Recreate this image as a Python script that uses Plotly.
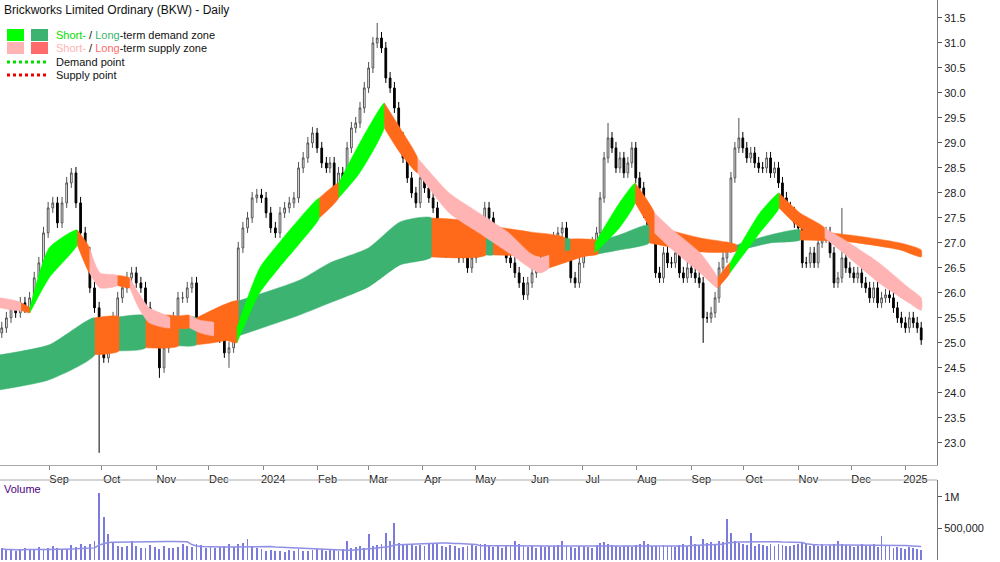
import numpy as np
import pandas as pd
import plotly.graph_objects as go

FONT = "Liberation Sans"

# ---------------- price data (closes) ----------------
closes_a = [25.3, 25.5, 25.7, 25.6, 25.8, 25.7, 25.9, 26.3, 26.6, 27.2,
            27.7, 27.8, 27.4, 27.8, 28.2, 28.4, 27.8, 27.2, 26.8, 26.1,
            25.7, 25.06, 24.7, 25.3, 25.5, 25.9, 26.1, 26.3, 26.4, 26.2,
            26.1, 25.7, 25.3, 25.0, 24.5, 24.9, 25.3, 25.5, 25.9, 25.9,
            26.1, 26.2, 25.3, 25.2, 25.2, 25.4, 25.3, 25.1, 24.8, 24.9,
            25.5, 26.9, 27.3, 27.5, 27.9, 27.96, 27.9, 27.6, 27.3, 27.2,
            27.6, 27.7, 27.8, 27.9, 28.5, 28.7, 29.0, 29.2, 28.9, 28.6, 28.5]
dates_a = ("2023-08-05", "2024-02-06")

closes_b = [28.6, 28.1, 28.4, 28.3, 28.9, 29.3, 29.4, 29.7, 30.1, 30.5,
            31.0, 31.1, 30.9, 30.3, 30.1, 29.7, 29.1, 28.7, 28.3, 28.0,
            27.8, 28.3, 28.1, 27.9, 27.7, 27.0, 26.9, 26.8, 27.1, 26.8,
            26.7, 27.0, 26.5, 26.7, 26.9, 27.4, 27.7, 27.5, 27.2, 27.1,
            26.9, 26.7, 26.6, 26.4, 26.2, 25.96, 26.2, 26.4, 26.6, 26.7,
            26.8, 27.0, 27.1, 27.2, 27.3, 26.9, 26.3, 26.2, 26.6, 26.9,
            26.9, 27.0, 27.2]
dates_b = ("2024-02-08", "2024-07-09")

closes_c = [27.9, 28.7, 29.1, 28.9, 28.5, 28.7, 28.4,
            28.6, 28.9, 28.3, 28.1, 27.6, 27.3, 27.1, 26.4, 26.3, 26.8,
            26.6, 26.6, 26.8, 26.4, 26.3, 26.5, 26.4, 26.3, 26.2, 25.5,
            25.5, 25.6, 25.9, 26.5, 26.7, 26.9, 28.3, 28.9, 29.1, 28.9,
            28.7, 28.8, 28.6, 28.5, 28.5, 28.7, 28.4, 28.5, 28.2, 27.9,
            27.7, 27.6, 27.4, 27.3, 26.6, 26.6, 26.8, 26.6, 27.0, 27.1,
            27.2, 26.8, 26.2, 26.3, 26.7, 26.5, 26.4, 26.3, 26.4, 26.2,
            26.1, 25.9, 26.1, 25.8, 25.9, 25.96, 25.9, 25.7, 25.5, 25.4,
            25.3, 25.5, 25.4, 25.3, 25.06]
dates_c = ("2024-07-11", "2025-01-10")

first_open = 25.2
# notable wick extremes (candle index, high, low)
wick_idx = [15, 21, 34, 49, 68, 82, 136, 160, 169, 195]
wick_high = [28.5, None, None, None, 29.3, 31.4, 29.4, None, 29.5, 27.7]
wick_low = [None, 22.8, 24.3, 24.5, None, None, None, 25.0, None, None]

# volume (thousands)
volume_a = [180, 150, 170, 140, 160, 190, 150, 170, 200, 160,
            180, 210, 190, 170, 160, 230, 200, 250, 220, 240,
            300, 1050, 680, 400, 260, 220, 200, 210, 300, 210,
            190, 180, 230, 200, 170, 210, 180, 190, 200, 250,
            220, 200, 240, 230, 190, 210, 180, 200, 220, 250,
            200, 240, 260, 320, 210, 180, 160, 140, 150, 130,
            140, 120, 150, 130, 160, 140, 130, 150, 170, 160, 140]
volume_b = [150, 160, 140, 170, 300, 180, 200, 220, 190, 400,
            210, 230, 250, 420, 300, 580, 260, 240, 230, 250,
            220, 230, 210, 240, 260, 250, 220, 200, 230, 210,
            190, 200, 210, 230, 220, 250, 240, 210, 200, 220,
            190, 210, 230, 300, 240, 220, 200, 210, 190, 220,
            200, 210, 220, 230, 300, 210, 200, 190, 220, 210,
            200, 190, 230, 260, 280, 240, 230, 210, 200, 220,
            210, 200, 230, 250, 300, 240, 220, 210, 200, 230,
            220, 210, 200, 230, 240, 220, 380, 250, 220, 330,
            260, 280, 240, 300, 280, 650, 420, 300, 260, 240,
            230, 420, 220, 240, 230, 210, 250, 220, 240, 230,
            210, 220, 230, 250, 280, 240, 220, 230, 210, 240,
            220, 230, 240, 300, 250, 230, 210, 200, 220, 240,
            210, 230, 250, 200, 380, 220, 210, 190, 200, 180,
            170, 200, 190, 160, 150]

# ---------------- zone bands ----------------
long_dates = ["2023-08-04", "2023-09-01", "2023-09-27", "2023-10-11", "2023-10-26",
              "2023-11-14", "2023-11-24", "2023-12-18", "2024-01-22", "2024-02-08",
              "2024-03-01", "2024-03-19", "2024-04-06", "2024-05-07", "2024-05-11",
              "2024-06-01", "2024-06-21", "2024-06-24", "2024-07-10", "2024-07-22",
              "2024-08-08", "2024-09-06", "2024-09-27", "2024-10-16", "2024-11-02",
              "2024-11-30", "2024-12-29", "2025-01-10"]
long_upper = [24.76, 24.96, 25.5, 25.52, 25.54, 25.52, 25.5, 25.84, 26.26, 26.6,
              26.9, 27.42, 27.5, 27.35, 27.33, 27.22, 27.1, 27.08, 27.04, 27.16,
              27.36, 27.1, 26.96, 27.16, 27.26, 27.16, 27.0, 26.86]
long_lower = [24.06, 24.26, 24.76, 24.84, 24.9, 24.94, 24.96, 25.14, 25.56, 25.8,
              26.12, 26.56, 26.72, 26.76, 26.76, 26.74, 26.74, 26.74, 26.78, 26.86,
              27.0, 26.82, 26.84, 27.0, 27.06, 27.02, 26.86, 26.72]
long_zone = ["D", "D", "S", "D", "S", "D", "S", "D", "D", "D",
             "D", "D", "S", "D", "S", "S", "D", "S", "D", "D",
             "S", "S", "D", "D", "S", "S", "S", "S"]

short_dates = ["2023-08-04", "2023-08-16", "2023-08-21", "2023-09-01", "2023-09-17",
               "2023-09-24", "2023-09-30", "2023-10-10", "2023-10-17", "2023-10-22",
               "2023-10-28", "2023-11-09", "2023-11-20", "2023-11-26", "2023-12-04",
               "2023-12-17", "2023-12-30", "2024-01-10", "2024-01-22", "2024-02-02",
               "2024-02-13", "2024-02-25", "2024-03-10", "2024-03-19", "2024-03-29",
               "2024-04-16", "2024-05-03", "2024-05-20", "2024-06-01", "2024-06-07",
               "2024-06-12", "2024-06-29", "2024-07-08", "2024-07-22", "2024-07-31",
               "2024-08-11", "2024-08-20", "2024-09-06", "2024-09-16", "2024-09-23",
               "2024-10-10", "2024-10-21", "2024-11-02", "2024-11-16", "2024-11-30",
               "2024-12-17", "2025-01-03", "2025-01-10"]
short_upper = [25.9, 25.8, 25.7, 26.9, 27.26, 26.9, 26.4, 26.35, 26.3, 26.0,
               25.7, 25.5, 25.55, 25.45, 25.4, 25.3, 26.5, 27.0, 27.5, 27.9,
               28.2, 29.0, 29.8, 29.3, 28.7, 28.0, 27.6, 27.2, 26.8, 26.7,
               26.75, 26.9, 27.0, 27.8, 28.2, 27.6, 27.3, 26.8, 26.3, 26.6,
               27.6, 28.0, 27.6, 27.3, 27.0, 26.6, 26.1, 25.9]
short_lower = [25.7, 25.65, 25.6, 26.3, 26.96, 26.4, 26.1, 26.15, 26.1, 25.7,
               25.4, 25.3, 25.3, 25.2, 25.15, 25.0, 26.0, 26.5, 27.0, 27.5,
               27.9, 28.4, 29.3, 28.8, 28.4, 27.6, 27.2, 26.8, 26.5, 26.4,
               26.5, 26.7, 26.8, 27.3, 27.8, 27.2, 26.9, 26.4, 26.1, 26.4,
               27.2, 27.7, 27.3, 27.1, 26.7, 26.2, 25.8, 25.65]
short_zone = ["P", "O", "S", "S", "O", "P", "P", "O", "P", "P",
              "P", "O", "P", "P", "O", "S", "S", "S", "S", "O",
              "S", "S", "O", "O", "P", "P", "P", "P", "P", "P",
              "O", "O", "S", "S", "O", "P", "P", "P", "O", "S",
              "S", "O", "O", "P", "P", "P", "P", "P"]

month_ticks = ["2023-09-01", "2023-10-01", "2023-11-01", "2023-12-01", "2024-01-01",
               "2024-02-01", "2024-03-01", "2024-04-01", "2024-05-01", "2024-06-01",
               "2024-07-01", "2024-08-01", "2024-09-01", "2024-10-01", "2024-11-01",
               "2024-12-01", "2025-01-01"]
month_labels = ["Sep", "Oct", "Nov", "Dec", "2024", "Feb", "Mar", "Apr", "May", "Jun",
                "Jul", "Aug", "Sep", "Oct", "Nov", "Dec", "2025"]
price_ticks = [23.0, 23.5, 24.0, 24.5, 25.0, 25.5, 26.0, 26.5, 27.0, 27.5,
               28.0, 28.5, 29.0, 29.5, 30.0, 30.5, 31.0, 31.5]

LONG_COLORS = {"D": "#3cb371", "S": "#ff6a1a"}
SHORT_COLORS = {"S": "#00ff00", "P": "#ffb3b3", "O": "#ff6a1a"}

# ---------------- assemble ----------------
d_a = pd.date_range(dates_a[0], dates_a[1], periods=len(closes_a))
d_b = pd.date_range(dates_b[0], dates_b[1], periods=len(closes_b))
d_c = pd.date_range(dates_c[0], dates_c[1], periods=len(closes_c))
dates = list(d_a) + list(d_b) + list(d_c)
closes = closes_a + closes_b + closes_c
volume = np.array(volume_a + volume_b) * 1000
opens = [first_open] + closes[:-1]
highs = [max(o, c) + 0.12 for o, c in zip(opens, closes)]
lows = [min(o, c) - 0.1 for o, c in zip(opens, closes)]
for i, h, l in zip(wick_idx, wick_high, wick_low):
    if h is not None:
        highs[i] = h
    if l is not None:
        lows[i] = l

fig = go.Figure()


def add_band(bdates, up, lo, zones, mapping):
    n = len(bdates)
    i = 0
    while i < n - 1:
        j = i
        while j + 1 < n - 1 and zones[j + 1] == zones[i]:
            j += 1
        end = j + 1
        xs = list(bdates[i:end + 1]) + list(bdates[i:end + 1])[::-1]
        ys = list(up[i:end + 1]) + list(lo[i:end + 1])[::-1]
        fig.add_trace(go.Scatter(x=xs, y=ys, fill="toself", mode="lines",
                                 line=dict(width=0.5, color=mapping[zones[i]], shape="spline", smoothing=0.6),
                                 fillcolor=mapping[zones[i]],
                                 hoverinfo="skip", showlegend=False,
                                 xaxis="x", yaxis="y"))
        i = end


add_band(long_dates, long_upper, long_lower, long_zone, LONG_COLORS)
add_band(short_dates, short_upper, short_lower, short_zone, SHORT_COLORS)

fig.add_trace(go.Candlestick(
    x=dates, open=opens, high=highs, low=lows, close=closes,
    increasing=dict(line=dict(color="#505050", width=1), fillcolor="white"),
    decreasing=dict(line=dict(color="#000000", width=1), fillcolor="black"),
    whiskerwidth=0, showlegend=False, xaxis="x", yaxis="y"))

vol_avg = pd.Series(volume).rolling(20, min_periods=1).mean()
fig.add_trace(go.Bar(x=dates, y=volume, marker=dict(color="#7b7bdc", line=dict(width=0)),
                     width=86400000 * 0.5, showlegend=False, xaxis="x2", yaxis="y2"))
fig.add_trace(go.Scatter(x=dates, y=vol_avg, mode="lines", line=dict(color="#8f8fe6", width=1.5),
                         showlegend=False, xaxis="x2", yaxis="y2"))

xr = ["2023-08-04", "2025-01-19"]
fig.update_layout(
    width=1000, height=562, margin=dict(l=0, r=63, t=0, b=2, autoexpand=False),
    paper_bgcolor="white", plot_bgcolor="white",
    font=dict(family=FONT, size=11, color="#222"),
    xaxis=dict(domain=[0, 1], range=xr, type="date", anchor="y",
               tickvals=month_ticks, ticktext=month_labels, ticks="outside",
               ticklen=4, tickcolor="#888", showgrid=False, showline=True,
               linecolor="#aaa", linewidth=1, ticklabelshift=10,
               tickfont=dict(family=FONT, size=11, color="#222"),
               rangeslider=dict(visible=False)),
    yaxis=dict(domain=[0.17, 1], range=[22.56, 31.86], side="right",
               tickvals=price_ticks, ticktext=[f"{v:.1f}" for v in price_ticks],
               ticks="outside", ticklen=4, tickcolor="#555", showgrid=False,
               showline=True, linecolor="#777", zeroline=False, anchor="x",
               tickfont=dict(family=FONT, size=11, color="#222")),
    xaxis2=dict(domain=[0, 1], range=xr, type="date", anchor="y2", showticklabels=False,
                showgrid=False, showline=False, ticks=""),
    yaxis2=dict(domain=[0, 0.142], range=[0, 1260000], side="right", anchor="x2",
                tickvals=[500000, 1000000], ticktext=["500,000", "1M"],
                ticks="outside", ticklen=4, tickcolor="#555", showgrid=False,
                showline=True, linecolor="#777", zeroline=False,
                tickfont=dict(family=FONT, size=11, color="#222")),
    bargap=0,
)

W = 937.0
H = 560.0


def px(x):
    return x / W


def py(y):
    return 1 - y / H


ann = [
    dict(x=px(2), y=py(10), text="Brickworks Limited Ordinary (BKW) - Daily", font=dict(size=12, color="#111")),
    dict(x=px(54), y=py(35), text="<span style='color:#00e000'>Short-</span> / <span style='color:#3cb371'>Long</span>-term demand zone", font=dict(size=11, color="#111")),
    dict(x=px(54), y=py(48), text="<span style='color:#ffb3b3'>Short-</span> / <span style='color:#ff6a6a'>Long</span>-term supply zone", font=dict(size=11, color="#111")),
    dict(x=px(54), y=py(62), text="Demand point", font=dict(size=11, color="#111")),
    dict(x=px(54), y=py(75), text="Supply point", font=dict(size=11, color="#111")),
    dict(x=px(2), y=py(489), text="Volume", font=dict(size=11, color="#4b0082")),
]
for a in ann:
    a.update(xref="paper", yref="paper", xanchor="left", yanchor="middle", showarrow=False)
fig.update_layout(annotations=ann)

shapes = [
    dict(type="rect", x0=px(7), x1=px(24), y0=py(41), y1=py(29), fillcolor="#00ff00", line=dict(width=0)),
    dict(type="rect", x0=px(31), x1=px(48), y0=py(41), y1=py(29), fillcolor="#3cb371", line=dict(width=0)),
    dict(type="rect", x0=px(7), x1=px(24), y0=py(54), y1=py(42), fillcolor="#ffb3b3", line=dict(width=0)),
    dict(type="rect", x0=px(31), x1=px(48), y0=py(54), y1=py(42), fillcolor="#ff6a6a", line=dict(width=0)),
    dict(type="line", x0=px(7), x1=px(48), y0=py(62), y1=py(62), line=dict(color="#00dd00", width=3, dash="dot")),
    dict(type="line", x0=px(7), x1=px(48), y0=py(75), y1=py(75), line=dict(color="#ee0000", width=3, dash="dot")),
    dict(type="line", x0=0, x1=1, y0=py(480), y1=py(480), line=dict(color="#aaa", width=1)),
]
for s in shapes:
    s.update(xref="paper", yref="paper")
fig.update_layout(shapes=shapes)

fig.write_html("out.html", config={"displayModeBar": False},
               post_script="document.body.style.margin='0';")
